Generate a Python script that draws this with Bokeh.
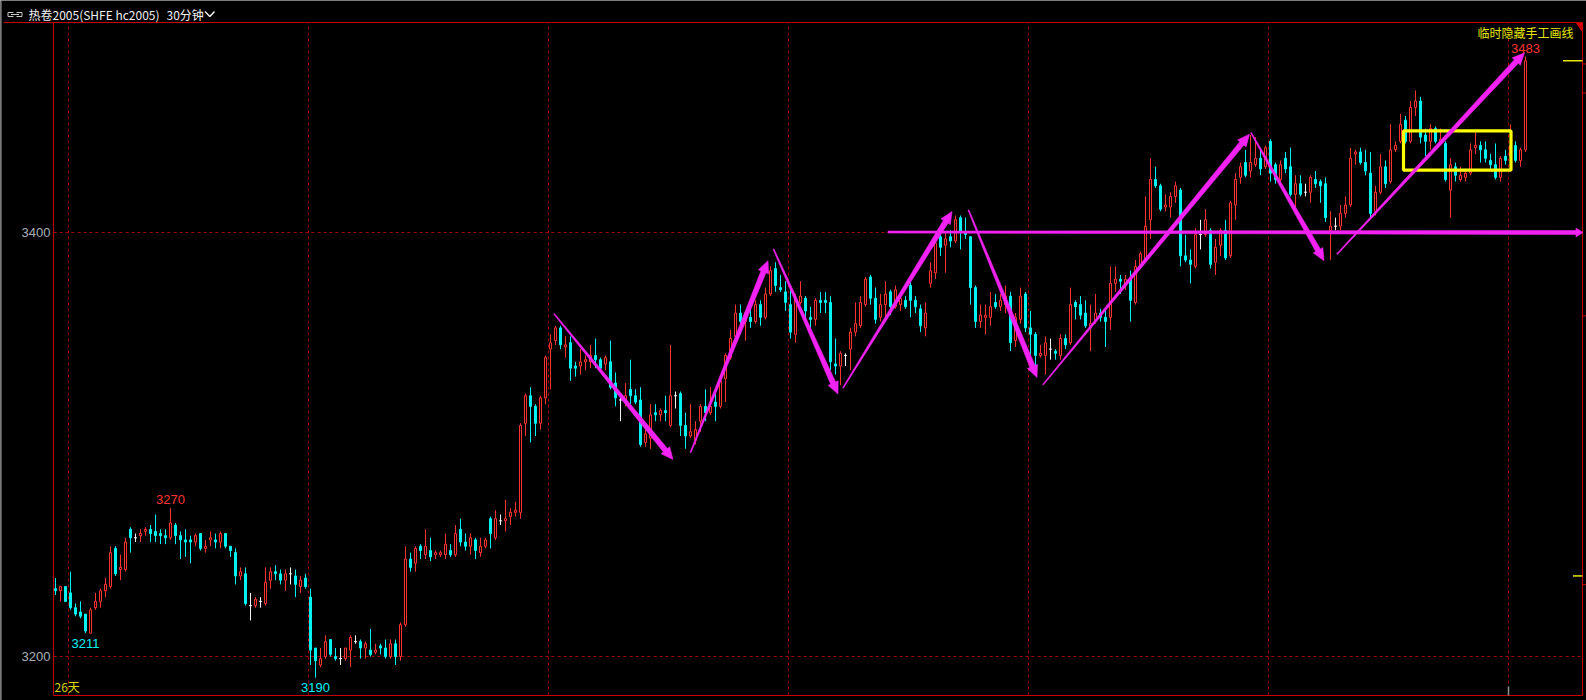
import math
from bokeh.plotting import figure
from bokeh.models import ColumnDataSource, Label
from bokeh.embed import file_html
from bokeh.resources import INLINE

# ---------------- data (30-minute candles, HC2005) ----------------
opens = [
    3232, 3231, 3233, 3230, 3223, 3221, 3220, 3211, 3223, 3226,
    3231, 3233, 3251, 3241, 3241, 3260, 3256, 3257, 3259, 3260,
    3259, 3258, 3257, 3256, 3262, 3257, 3255, 3255, 3254, 3258,
    3251, 3255, 3255, 3254, 3258, 3252, 3249, 3238, 3239, 3224,
    3224, 3226, 3225, 3236, 3240, 3239, 3236, 3239, 3238, 3233,
    3237, 3228, 3204, 3196, 3200, 3208, 3200, 3199, 3199, 3203,
    3207, 3207, 3204, 3203, 3202, 3205, 3204, 3200, 3206, 3200,
    3215, 3246, 3244, 3252, 3248, 3250, 3248, 3248, 3248, 3250,
    3248, 3260, 3254, 3252, 3255, 3249, 3252, 3265, 3256, 3264,
    3264, 3266, 3268, 3268, 3310, 3323, 3318, 3310, 3322, 3345,
    3349, 3355, 3346, 3348, 3337, 3337, 3339, 3339, 3342, 3340,
    3338, 3339, 3329, 3321, 3321, 3326, 3323, 3321, 3301, 3303,
    3315, 3314, 3316, 3309, 3323, 3324, 3309, 3304, 3302, 3311,
    3318, 3315, 3320, 3318, 3331, 3341, 3351, 3362, 3358, 3360,
    3358, 3366, 3360, 3371, 3383, 3374, 3372, 3366, 3352, 3367,
    3369, 3360, 3359, 3368, 3368, 3367, 3338, 3337, 3342, 3345,
    3353, 3356, 3366, 3379, 3369, 3360, 3366, 3372, 3365, 3366,
    3368, 3375, 3368, 3364, 3355, 3376, 3381, 3398, 3394, 3398,
    3396, 3407, 3400, 3398, 3374, 3358, 3360, 3360, 3367, 3365,
    3366, 3370, 3349, 3359, 3371, 3355, 3352, 3342, 3342, 3345,
    3344, 3342, 3350, 3348, 3367, 3366, 3362, 3355, 3358, 3362,
    3360, 3360, 3376, 3378, 3375, 3378, 3367, 3384, 3387, 3406,
    3425, 3422, 3412, 3412, 3417, 3420, 3389, 3387, 3384, 3399,
    3399, 3401, 3386, 3394, 3401, 3389, 3413, 3426, 3433, 3429,
    3432, 3435, 3431, 3443, 3432, 3425, 3435, 3431, 3418, 3423,
    3419, 3419, 3425, 3424, 3423, 3401, 3403, 3403, 3409, 3413,
    3437, 3438, 3433, 3428, 3410, 3419, 3431, 3424, 3439, 3443,
    3453, 3443, 3459, 3462, 3446, 3443, 3449, 3443, 3442, 3420,
    3431, 3425, 3426, 3428, 3440, 3441, 3439, 3434, 3432, 3426,
    3436, 3436, 3441, 3434, 3439,
]
highs = [
    3237, 3233, 3233, 3240, 3225, 3226, 3220, 3223, 3230, 3232,
    3237, 3252, 3252, 3248, 3256, 3261, 3258, 3260, 3261, 3262,
    3267, 3260, 3260, 3270, 3263, 3259, 3260, 3257, 3258, 3258,
    3255, 3259, 3258, 3259, 3258, 3252, 3251, 3242, 3242, 3230,
    3228, 3228, 3242, 3242, 3243, 3241, 3241, 3242, 3241, 3238,
    3239, 3232, 3204, 3204, 3210, 3208, 3204, 3204, 3204, 3210,
    3210, 3208, 3207, 3213, 3206, 3206, 3208, 3208, 3208, 3216,
    3252, 3249, 3252, 3253, 3260, 3256, 3250, 3250, 3258, 3253,
    3262, 3265, 3258, 3258, 3256, 3256, 3256, 3266, 3269, 3267,
    3274, 3270, 3273, 3310, 3324, 3327, 3319, 3323, 3342, 3352,
    3356, 3356, 3351, 3351, 3339, 3345, 3342, 3347, 3350, 3341,
    3342, 3349, 3334, 3322, 3329, 3340, 3326, 3327, 3310, 3319,
    3319, 3317, 3323, 3347, 3325, 3325, 3315, 3319, 3311, 3319,
    3326, 3327, 3324, 3331, 3343, 3354, 3366, 3366, 3363, 3365,
    3368, 3368, 3374, 3384, 3386, 3380, 3377, 3375, 3371, 3377,
    3370, 3365, 3369, 3372, 3372, 3370, 3350, 3344, 3343, 3355,
    3367, 3370, 3379, 3380, 3374, 3371, 3377, 3373, 3375, 3370,
    3370, 3377, 3370, 3366, 3367, 3386, 3396, 3401, 3400, 3401,
    3408, 3408, 3407, 3398, 3375, 3366, 3366, 3372, 3371, 3371,
    3375, 3372, 3362, 3374, 3372, 3363, 3353, 3347, 3351, 3350,
    3345, 3352, 3352, 3374, 3368, 3370, 3368, 3366, 3371, 3364,
    3364, 3384, 3384, 3380, 3380, 3382, 3387, 3391, 3417, 3435,
    3431, 3423, 3418, 3419, 3424, 3421, 3399, 3392, 3402, 3406,
    3411, 3402, 3397, 3402, 3406, 3415, 3428, 3433, 3439, 3446,
    3445, 3440, 3441, 3444, 3433, 3434, 3438, 3440, 3427, 3427,
    3423, 3427, 3429, 3425, 3426, 3410, 3407, 3413, 3417, 3440,
    3439, 3440, 3439, 3438, 3422, 3437, 3434, 3451, 3443, 3456,
    3455, 3462, 3467, 3464, 3449, 3451, 3450, 3449, 3443, 3435,
    3433, 3431, 3430, 3442, 3448, 3443, 3443, 3437, 3442, 3436,
    3439, 3451, 3443, 3440, 3483,
]
lows = [
    3229, 3226, 3226, 3222, 3219, 3218, 3211, 3211, 3222, 3223,
    3228, 3232, 3238, 3236, 3240, 3249, 3254, 3254, 3257, 3254,
    3254, 3253, 3253, 3255, 3253, 3246, 3247, 3244, 3252, 3250,
    3249, 3252, 3251, 3251, 3251, 3247, 3234, 3236, 3224, 3217,
    3223, 3223, 3224, 3232, 3236, 3234, 3231, 3234, 3228, 3230,
    3232, 3196, 3190, 3195, 3199, 3200, 3198, 3196, 3198, 3195,
    3206, 3199, 3199, 3200, 3201, 3201, 3199, 3199, 3196, 3198,
    3214, 3240, 3240, 3246, 3246, 3245, 3246, 3247, 3246, 3247,
    3247, 3252, 3250, 3248, 3246, 3247, 3251, 3251, 3255, 3262,
    3259, 3262, 3266, 3265, 3304, 3301, 3304, 3307, 3319, 3326,
    3347, 3345, 3341, 3330, 3332, 3333, 3335, 3336, 3336, 3335,
    3335, 3326, 3318, 3311, 3318, 3319, 3319, 3299, 3299, 3298,
    3311, 3311, 3311, 3308, 3317, 3304, 3298, 3303, 3300, 3306,
    3311, 3314, 3311, 3317, 3320, 3340, 3350, 3352, 3349, 3355,
    3357, 3356, 3359, 3370, 3372, 3372, 3363, 3350, 3348, 3366,
    3358, 3355, 3356, 3362, 3362, 3335, 3333, 3328, 3337, 3335,
    3351, 3355, 3365, 3366, 3357, 3358, 3360, 3361, 3364, 3363,
    3364, 3360, 3362, 3353, 3351, 3374, 3378, 3389, 3381, 3393,
    3395, 3392, 3397, 3366, 3355, 3355, 3352, 3356, 3364, 3363,
    3362, 3344, 3346, 3357, 3353, 3342, 3336, 3341, 3333, 3340,
    3340, 3340, 3345, 3347, 3359, 3359, 3355, 3344, 3357, 3358,
    3346, 3354, 3372, 3371, 3373, 3358, 3366, 3383, 3386, 3397,
    3421, 3410, 3410, 3407, 3414, 3384, 3386, 3376, 3383, 3392,
    3398, 3383, 3380, 3389, 3387, 3388, 3406, 3423, 3426, 3426,
    3431, 3427, 3430, 3424, 3423, 3424, 3428, 3417, 3412, 3417,
    3417, 3414, 3421, 3414, 3405, 3387, 3401, 3401, 3407, 3412,
    3432, 3432, 3427, 3407, 3408, 3418, 3421, 3423, 3438, 3442,
    3442, 3442, 3455, 3442, 3436, 3439, 3442, 3442, 3424, 3407,
    3424, 3424, 3424, 3427, 3437, 3433, 3433, 3429, 3425, 3424,
    3432, 3435, 3433, 3431, 3438,
]
closes = [
    3231, 3233, 3226, 3223, 3220, 3219, 3212, 3222, 3226, 3231,
    3234, 3249, 3239, 3242, 3254, 3256, 3256, 3258, 3260, 3258,
    3257, 3257, 3256, 3263, 3257, 3255, 3254, 3254, 3257, 3251,
    3252, 3256, 3254, 3258, 3252, 3250, 3238, 3240, 3225, 3224,
    3227, 3226, 3235, 3240, 3239, 3236, 3239, 3239, 3234, 3236,
    3233, 3203, 3198, 3199, 3207, 3201, 3199, 3199, 3204, 3209,
    3207, 3204, 3206, 3201, 3203, 3204, 3200, 3206, 3200, 3215,
    3246, 3242, 3251, 3250, 3252, 3247, 3249, 3249, 3253, 3248,
    3258, 3254, 3252, 3256, 3250, 3252, 3255, 3258, 3265, 3264,
    3265, 3268, 3269, 3309, 3323, 3318, 3310, 3322, 3341, 3348,
    3355, 3347, 3347, 3336, 3336, 3339, 3340, 3342, 3340, 3336,
    3341, 3327, 3322, 3321, 3323, 3323, 3320, 3300, 3305, 3314,
    3314, 3316, 3315, 3323, 3323, 3309, 3304, 3306, 3307, 3318,
    3315, 3318, 3318, 3330, 3342, 3350, 3362, 3358, 3362, 3358,
    3366, 3360, 3371, 3382, 3375, 3373, 3367, 3353, 3369, 3370,
    3363, 3359, 3368, 3367, 3367, 3339, 3337, 3343, 3342, 3353,
    3357, 3367, 3378, 3369, 3359, 3366, 3371, 3365, 3373, 3369,
    3365, 3368, 3365, 3356, 3362, 3382, 3395, 3393, 3397, 3396,
    3406, 3400, 3399, 3374, 3358, 3361, 3361, 3365, 3365, 3368,
    3370, 3348, 3360, 3370, 3355, 3352, 3342, 3343, 3348, 3345,
    3343, 3350, 3347, 3366, 3365, 3361, 3356, 3357, 3362, 3360,
    3358, 3376, 3378, 3377, 3378, 3368, 3384, 3390, 3403, 3425,
    3422, 3411, 3413, 3417, 3422, 3389, 3387, 3385, 3399, 3399,
    3406, 3385, 3393, 3401, 3388, 3414, 3425, 3431, 3427, 3433,
    3435, 3430, 3440, 3428, 3425, 3432, 3430, 3418, 3423, 3418,
    3419, 3426, 3423, 3422, 3407, 3403, 3403, 3409, 3413, 3435,
    3438, 3433, 3429, 3409, 3419, 3431, 3423, 3439, 3441, 3451,
    3443, 3459, 3462, 3445, 3443, 3449, 3443, 3444, 3425, 3432,
    3427, 3427, 3428, 3439, 3441, 3439, 3435, 3432, 3426, 3435,
    3434, 3441, 3434, 3439, 3481,
]

y_ticks = [3400, 3200]
extreme_idx = [23, 6, 52, 294]
extreme_side = ["high", "low", "low", "high"]
title_main = "热卷2005(SHFE hc2005)"
title_period = "30分钟"
corner_note = "临时隐藏手工画线"
days_note = "26天"

# hand-drawn arrows, in (candle index, price)
arrow_x0 = [99.7, 127.0, 143.6, 157.5, 182.6, 197.5, 239.1, 256.3]
arrow_y0 = [3361.7, 3296.2, 3392.2, 3326.7, 3410.6, 3328.2, 3447.1, 3389.8]
arrow_x1 = [123.5, 142.5, 156.5, 179.3, 196.3, 238.8, 253.7, 293.8]
arrow_y1 = [3292.9, 3386.7, 3323.8, 3409.9, 3331.6, 3446.4, 3386.7, 3484.8]
hline_x = [166.5, 305.5]
hline_y = [3400.2, 3400.0]
box_x = [269.6, 291.1]
box_y = [3429.4, 3447.9]
side_mark_x = [301.5, 303.5]
side_mark_y = [closes[-1], 3238]
right_tick_prices = [3479.5, 3465.8, 3360.7, 3233.9]

# ---------------- geometry ----------------
W, H = 1586, 700
X0, X1 = -11.0, 306.2
Y1 = 3509.434
Y0 = Y1 - H / 2.12
FL, FR = -0.4, 305.4
FB, FT = 3181.60, 3499.06
SX = W / (X1 - X0)
SY = H / (Y1 - Y0)


def dx(fx):
    return X0 + fx / SX


def dy(fy):
    return Y1 - fy / SY


RED = "#ff3232"
CYAN = "#00f2f2"
WHITE = "#f4f4f4"
GRID = "#a00000"
BORDER = "#c80000"
MAGENTA = "#f222f2"
YELLOW = "#ffff00"

p = figure(width=W, height=H, x_range=(X0, X1), y_range=(Y0, Y1),
           x_axis_type=None, y_axis_type=None, toolbar_location=None,
           output_backend="svg", min_border=0,
           background_fill_color="black", border_fill_color="black",
           outline_line_color=None)

# grid
grid_x = [2.6 + 48 * m for m in range(7)]
p.segment(x0=grid_x, y0=[FB] * len(grid_x), x1=grid_x, y1=[FT] * len(grid_x),
          line_color=GRID, line_width=1, line_dash="3 3")
p.segment(x0=[FL] * len(y_ticks), y0=y_ticks, x1=[FR] * len(y_ticks), y1=y_ticks,
          line_color=GRID, line_width=1, line_dash="3 3")

# candles
idx = list(range(len(opens)))


def make_src(ii):
    return ColumnDataSource(dict(
        x=ii,
        xl=[i - 0.3 for i in ii], xr=[i + 0.3 for i in ii],
        o=[opens[i] for i in ii], h=[highs[i] for i in ii],
        l=[lows[i] for i in ii], c=[closes[i] for i in ii]))


up = make_src([i for i in idx if closes[i] > opens[i]])
dn = make_src([i for i in idx if closes[i] < opens[i]])
dj = make_src([i for i in idx if closes[i] == opens[i]])

BW = 0.4
p.segment(x0="x", y0="l", x1="x", y1="h", source=up, line_color=RED, line_width=1)
p.vbar(x="x", width=BW, bottom="o", top="c", source=up,
       fill_color="black", line_color=RED, line_width=1)
p.segment(x0="x", y0="l", x1="x", y1="h", source=dn, line_color=CYAN, line_width=1)
p.vbar(x="x", width=BW, bottom="c", top="o", source=dn,
       fill_color=CYAN, line_color=CYAN, line_width=1)
p.segment(x0="x", y0="l", x1="x", y1="h", source=dj, line_color=WHITE, line_width=1)
p.segment(x0="xl", y0="o", x1="xr", y1="o", source=dj, line_color=WHITE, line_width=1)

# borders
p.segment(x0=[dx(3), FL, FR, FL], y0=[FT, FB, FB, FB],
          x1=[FR, FL, FR, FR], y1=[FT, FT, FT, FB],
          line_color=BORDER, line_width=1)
p.patch(x=[FR - 7 / SX, FR, FR], y=[FT, FT, FT - 10 / SY],
        fill_color="#d00000", line_color=None)
# left window edge
p.segment(x0=[dx(0.5)], y0=[dy(0)], x1=[dx(0.5)], y1=[dy(700)],
          line_color="#707070", line_width=1.5)
# ticks right of the border
p.segment(x0=[FR] * len(right_tick_prices), y0=right_tick_prices,
          x1=[dx(1586)] * len(right_tick_prices), y1=right_tick_prices,
          line_color=BORDER, line_width=1)

# right-side markers
p.segment(x0=side_mark_x, y0=side_mark_y, x1=[FR] * 2, y1=side_mark_y,
          line_color="#e8e800", line_width=1.5)
p.segment(x0=[grid_x[-1]], y0=[FB], x1=[grid_x[-1]], y1=[FB + 9 / SY],
          line_color="#909090", line_width=1.5)

# yellow box
p.quad(left=[box_x[0]], right=[box_x[1]], bottom=[box_y[0]], top=[box_y[1]],
       fill_color=None, line_color=YELLOW, line_width=3.2)


# tapered arrows
def arrow_poly(x0, y0, x1, y1, w0, w1, hl, hw):
    X0p, Y0p, X1p, Y1p = x0 * SX, y0 * SY, x1 * SX, y1 * SY
    ddx, ddy = X1p - X0p, Y1p - Y0p
    L = math.hypot(ddx, ddy)
    ux, uy = ddx / L, ddy / L
    nx, ny = -uy, ux
    bx, by = X1p - ux * hl, Y1p - uy * hl
    pts = [(X0p + nx * w0, Y0p + ny * w0), (bx + nx * w1, by + ny * w1),
           (bx + nx * hw, by + ny * hw), (X1p, Y1p),
           (bx - nx * hw, by - ny * hw), (bx - nx * w1, by - ny * w1),
           (X0p - nx * w0, Y0p - ny * w0)]
    return [q[0] / SX for q in pts], [q[1] / SY for q in pts]


axs, ays = [], []
for a, b, c, d in zip(arrow_x0, arrow_y0, arrow_x1, arrow_y1):
    xs, ys = arrow_poly(a, b, c, d, 0.5, 2.7, 12, 5.5)
    axs.append(xs)
    ays.append(ys)
xs, ys = arrow_poly(hline_x[0], hline_y[0], hline_x[1], hline_y[1], 1.0, 2.0, 7, 4.5)
axs.append(xs)
ays.append(ys)
p.patches(xs=axs, ys=ays, fill_color=MAGENTA, line_color=MAGENTA, line_width=0.6)

# labels
NUMF = "Liberation Sans"
CJK = "Noto Sans CJK SC"
for t in y_ticks:
    p.add_layout(Label(x=50, y=t, x_units="screen", y_units="data", text=str(t),
                       text_align="right", text_baseline="middle",
                       text_font=NUMF, text_font_size="13px", text_color="#a8b0b8"))
for i, side in zip(extreme_idx, extreme_side):
    v = highs[i] if side == "high" else lows[i]
    p.add_layout(Label(x=i, y=v, text=str(v), text_align="center",
                       text_baseline="middle",
                       y_offset=8.5 if side == "high" else -10,
                       text_font=NUMF, text_font_size="13px",
                       text_color=RED if side == "high" else CYAN))

p.add_layout(Label(x=54, y=H - 686, x_units="screen", y_units="screen", text=days_note,
                   text_align="left", text_baseline="middle", text_font=CJK,
                   text_font_size="12px", text_color="#d6d600"))
p.add_layout(Label(x=1573, y=H - 32, x_units="screen", y_units="screen", text=corner_note,
                   text_align="right", text_baseline="middle", text_font=CJK,
                   text_font_size="12px", text_color="#e6e600"))

# title bar
p.add_layout(Label(x=28, y=H - 13.5, x_units="screen", y_units="screen", text=title_main,
                   text_align="left", text_baseline="middle", text_font=CJK,
                   text_font_size="12px", text_color="#f0f0f0"))
p.add_layout(Label(x=166, y=H - 13.5, x_units="screen", y_units="screen", text=title_period,
                   text_align="left", text_baseline="middle", text_font=CJK,
                   text_font_size="12px", text_color="#f0f0f0"))
p.line(x=[dx(204.5), dx(209.3), dx(214)], y=[dy(11), dy(16), dy(11)],
       line_color="#f0f0f0", line_width=1.5)
# link icon
p.multi_line(xs=[[dx(13), dx(7.5), dx(7.5), dx(13)], [dx(16), dx(21.5), dx(21.5), dx(16)],
                 [dx(10.5), dx(18.5)]],
             ys=[[dy(12), dy(12), dy(16), dy(16)], [dy(12), dy(12), dy(16), dy(16)],
                 [dy(14), dy(14)]],
             line_color="#c8c8c8", line_width=1)

with open("out.html", "w", encoding="utf-8") as f:
    f.write(file_html(p, INLINE))
